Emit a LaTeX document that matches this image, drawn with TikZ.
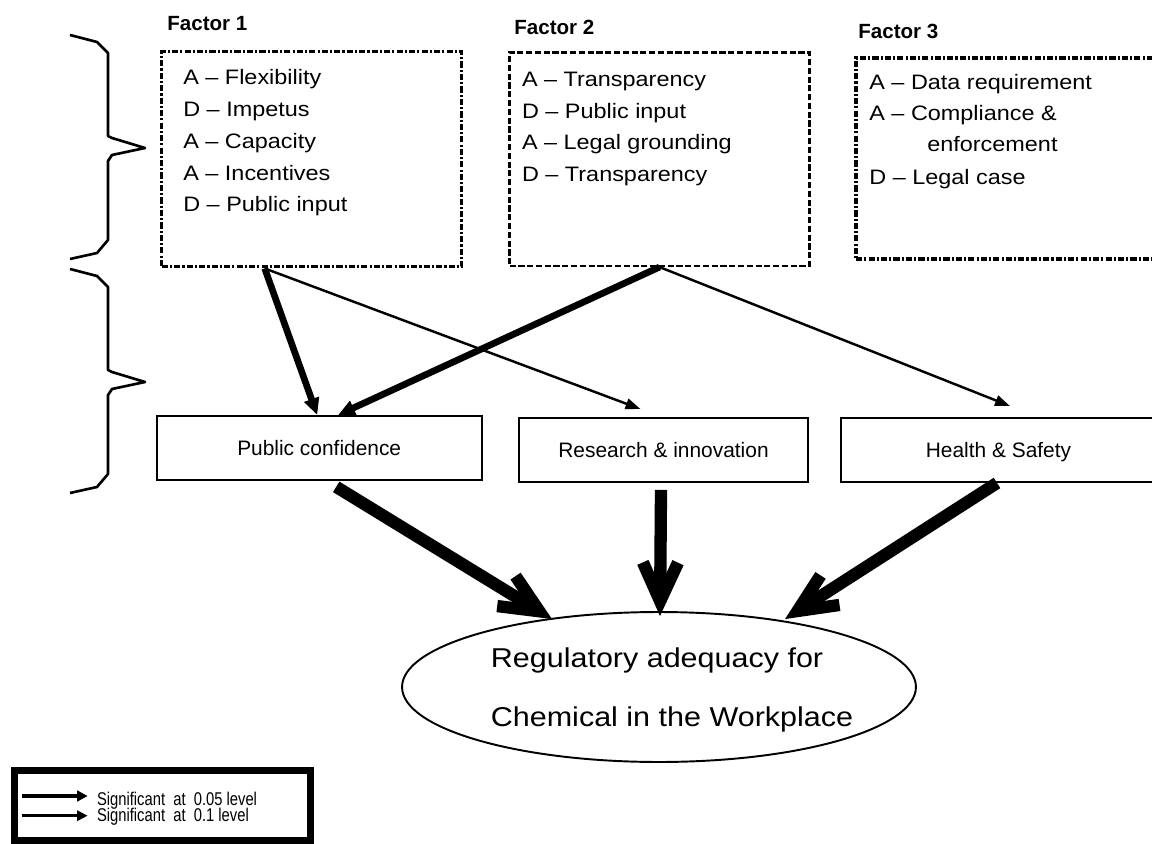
\documentclass[tikz,border=0pt]{standalone}
\usepackage{fontspec}
\setmainfont{Liberation Sans}
\newfontfamily\widefont{Liberation Sans}[FakeStretch=1.12]
\newfontfamily\narrowfont{Liberation Sans}[FakeStretch=0.8]
\usetikzlibrary{shapes,arrows.meta,positioning,calc}

\begin{document}
\begin{tikzpicture}[x=0.02cm,y=-0.02cm]

  \tikzset{factor node/.style={rectangle, draw, line width=2pt,
  		dash pattern=on 3.5pt off 1.2pt on 1.2pt off 1.2pt,
  		minimum width=6cm}, }
  \tikzset{title node/.style={anchor=base west, inner sep=0pt,
  		font=\bfseries\fontsize{11.7}{14}\selectfont}, }
  \tikzset{item node/.style={anchor=base west, inner sep=0pt,
  		font=\widefont\fontsize{11.9}{14}\selectfont}, }
  \tikzset{main node/.style={rectangle, draw, line width=1.1pt,
  		minimum height=1.28cm, text depth=0pt,
  		font=\fontsize{11.9}{14}\selectfont}, }
  \tikzset{sig05/.style={line width=3.8pt, -{Triangle[length=9.5pt,width=8.5pt]}}, }
  \tikzset{sig10/.style={line width=1.4pt, -{Triangle[length=8.5pt,width=6pt]}}, }
  \tikzset{lineb/.style={line width=7pt, -{Straight Barb[length=22pt,width=20pt]}}, }
  \useasboundingbox (0,0) rectangle (1152,844);

  % braces
  \foreach \dy in {0,234}
    \draw[line width=1.5pt, line join=round, shift={(0,\dy)}] (70,35) -- (97,42) -- (108,53)
      -- (108,136) -- (112,138) -- (145,148) -- (112,155) -- (108,161)
      -- (108,240) -- (97,253) -- (70,259);

    \node[factor node, minimum height=4.3cm] (f1) at (311.7,159.2) {};
    \node[factor node, minimum height=4.27cm, line width=1.3pt,
      dash pattern=on 3.5pt off 1.5pt] (f2) [right =0.9cm of f1] {};
    \node[factor node, minimum height=4.02cm, minimum width=6.2cm] (f3) at (1011,158.7) {};

    \node[title node] (t1) at (167,31) {Factor 1};
    \node[title node] (t2) at (514,35) {Factor 2};
    \node[title node] (t3) at (858,38.3) {Factor 3};

  \foreach \txt [count=\i] in {A – Flexibility, D – Impetus, A – Capacity, A – Incentives, D – Public input}
    \node[item node] (f1-\i) at (183,53.3+31.7*\i) {\txt};
  \foreach \txt [count=\i] in {A – Transparency, D – Public input, A – Legal grounding, D – Transparency}
    \node[item node] (f2-\i) at (521.7,55.5+31.5*\i) {\txt};
    \node[item node] (f3-1) at (869,90) {A – Data requirement};
    \node[item node] (f3-2) at (869,121) {A – Compliance \&};
    \node[item node] (f3-3) at (927,152) {enforcement};
    \node[item node] (f3-4) at (869,185) {D – Legal case};

    \node[main node, minimum width=6.5cm] (pc) at (319.2,447.9) {Public confidence};
    \node[main node, minimum width=5.77cm] (ri) at (663.5,450) {Research \& innovation};
    \node[main node, minimum width=6.3cm] (hs) at (998.5,450) {Health \& Safety};

    \node[ellipse, draw, line width=1.1pt, minimum width=10.28cm, minimum height=3cm] (goal)
      at (659,687) {};
    \node[align=left, inner sep=0pt, font=\widefont\fontsize{15.5}{33.4}\selectfont] (goaltext)
      at ($(goal.center)+(13,3)$) {Regulatory adequacy for\\Chemical in the Workplace};

  \draw[sig05] ($(f1.south)+(-47,0)$) -- ($(pc.north)+(-2,0)$);
  \draw[sig10] ($(f1.south)+(-47,0)$) -- ($(ri.north)+(-23,-8)$);
  \draw[sig05] (f2.south) -- ($(pc.north)+(19,0)$);
  \draw[sig10] (f2.south) -- ($(hs.north)+(11.5,-11)$);

  \draw[lineb] ($(pc.south)+(17,6)$) -- ($(goal.north)+(-107,8)$);
  \draw[lineb] ($(ri.south)+(-2.5,7)$) -- ($(goal.north)+(1,5)$);
  \draw[lineb] ($(hs.south)+(-1.5,0)$) -- ($(goal.north)+(126,8)$);

  % legend
    \node[rectangle, draw, line width=4.5pt, minimum width=5.92cm, minimum height=1.4cm] (legend) at (162.5,805.5) {};
    \node[anchor=base west, inner sep=0pt, font=\narrowfont\fontsize{10.5}{12}\selectfont] (sig1) at (96.7,805) {Significant~~at~~0.05 level};
    \node[anchor=base west, inner sep=0pt, font=\narrowfont\fontsize{10.5}{12}\selectfont] (sig2) at (96.7,821.7) {Significant~~at~~0.1 level};
  \draw[line width=2.6pt, -{Triangle[length=6pt,width=6pt]}] ($(sig1.base west)+(-75,-9)$) -- ($(sig1.base west)+(-9,-9)$);
  \draw[line width=1.7pt, -{Triangle[length=6pt,width=5.7pt]}] ($(sig2.base west)+(-75,-6)$) -- ($(sig2.base west)+(-9,-6)$);
%%
\end{tikzpicture}
\end{document}
